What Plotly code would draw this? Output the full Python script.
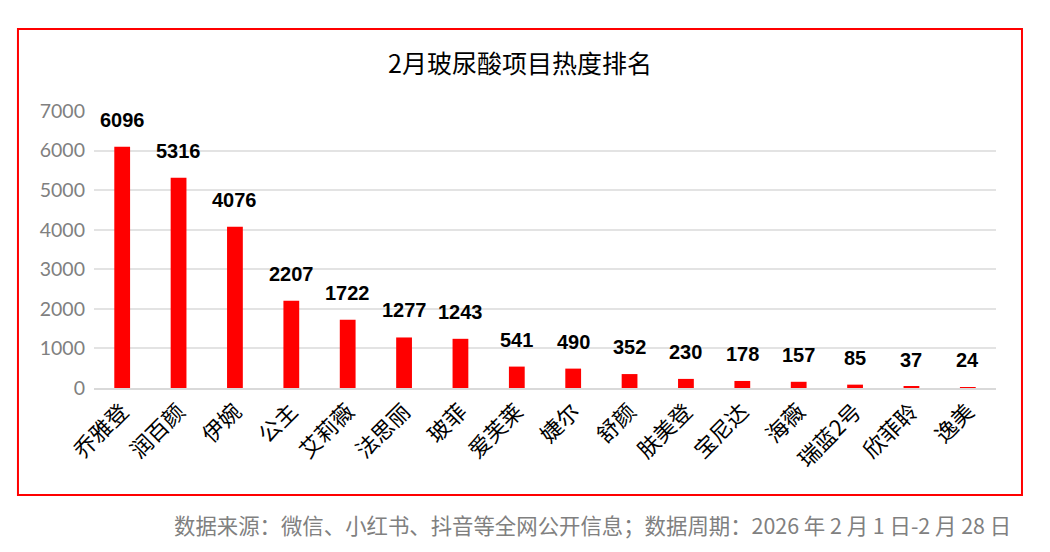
import plotly.graph_objects as go

categories = ["乔雅登", "润百颜", "伊婉", "公主", "艾莉薇", "法思丽", "玻菲", "爱芙莱",
              "婕尔", "舒颜", "肤美登", "宝尼达", "海薇", "瑞蓝2号", "欣菲聆", "逸美"]
values = [6096, 5316, 4076, 2207, 1722, 1277, 1243, 541, 490, 352, 230, 178, 157, 85, 37, 24]
y_ticks = [0, 1000, 2000, 3000, 4000, 5000, 6000, 7000]

title_text = "2月玻尿酸项目热度排名"
note_text = "数据来源：微信、小红书、抖音等全网公开信息；数据周期：2026 年 2 月 1 日-2 月 28 日"

fig = go.Figure()
fig.add_trace(go.Bar(
    x=categories, y=values,
    marker=dict(color="#ff0000", line=dict(width=0)),
    hoverinfo="x+y",
))

for c, v in zip(categories, values):
    fig.add_annotation(
        x=c, y=v, text=f"<b>{v}</b>", showarrow=False,
        xref="x", yref="y", yanchor="bottom", yshift=14,
        font=dict(family="Liberation Sans, Arial, sans-serif", size=20, color="#000000"),
    )

fig.add_annotation(
    x=0.472, y=1.177, xref="paper", yref="paper", text=title_text, showarrow=False,
    xanchor="center", yanchor="middle",
    font=dict(family="Noto Sans CJK SC", size=25, color="#000000"),
)

fig.add_annotation(
    x=1.0188, y=-0.491, xref="paper", yref="paper", text=note_text, showarrow=False,
    xanchor="right", yanchor="middle",
    font=dict(family="Noto Sans CJK SC", size=21.4, color="#808080"),
)

fig.add_shape(
    type="rect", xref="paper", yref="paper",
    x0=-0.0843, x1=1.0288, y0=-0.386, y1=1.296,
    line=dict(color="#ff0000", width=2), fillcolor="rgba(0,0,0,0)", layer="above",
)

fig.update_layout(
    width=1050, height=552,
    margin=dict(l=86, r=62, t=103, b=172),
    paper_bgcolor="#ffffff", plot_bgcolor="#ffffff",
    showlegend=False,
    bargap=0.72,
    xaxis=dict(
        tickangle=-45,
        tickfont=dict(family="Noto Sans CJK SC", size=22, color="#000000"),
        showgrid=False, showline=True, linecolor="#d9d9d9", linewidth=2,
        ticks="", ticklen=0,
    ),
    yaxis=dict(
        range=[0, 7000], tickvals=y_ticks,
        tickfont=dict(family="Lato, Liberation Sans, sans-serif", size=19.5, color="#808080"),
        showgrid=True, gridcolor="#e3e3e3", gridwidth=1.5,
        zeroline=False, showline=False, ticks="", ticklabelstandoff=8,
    ),
)

fig.write_html("out.html")
